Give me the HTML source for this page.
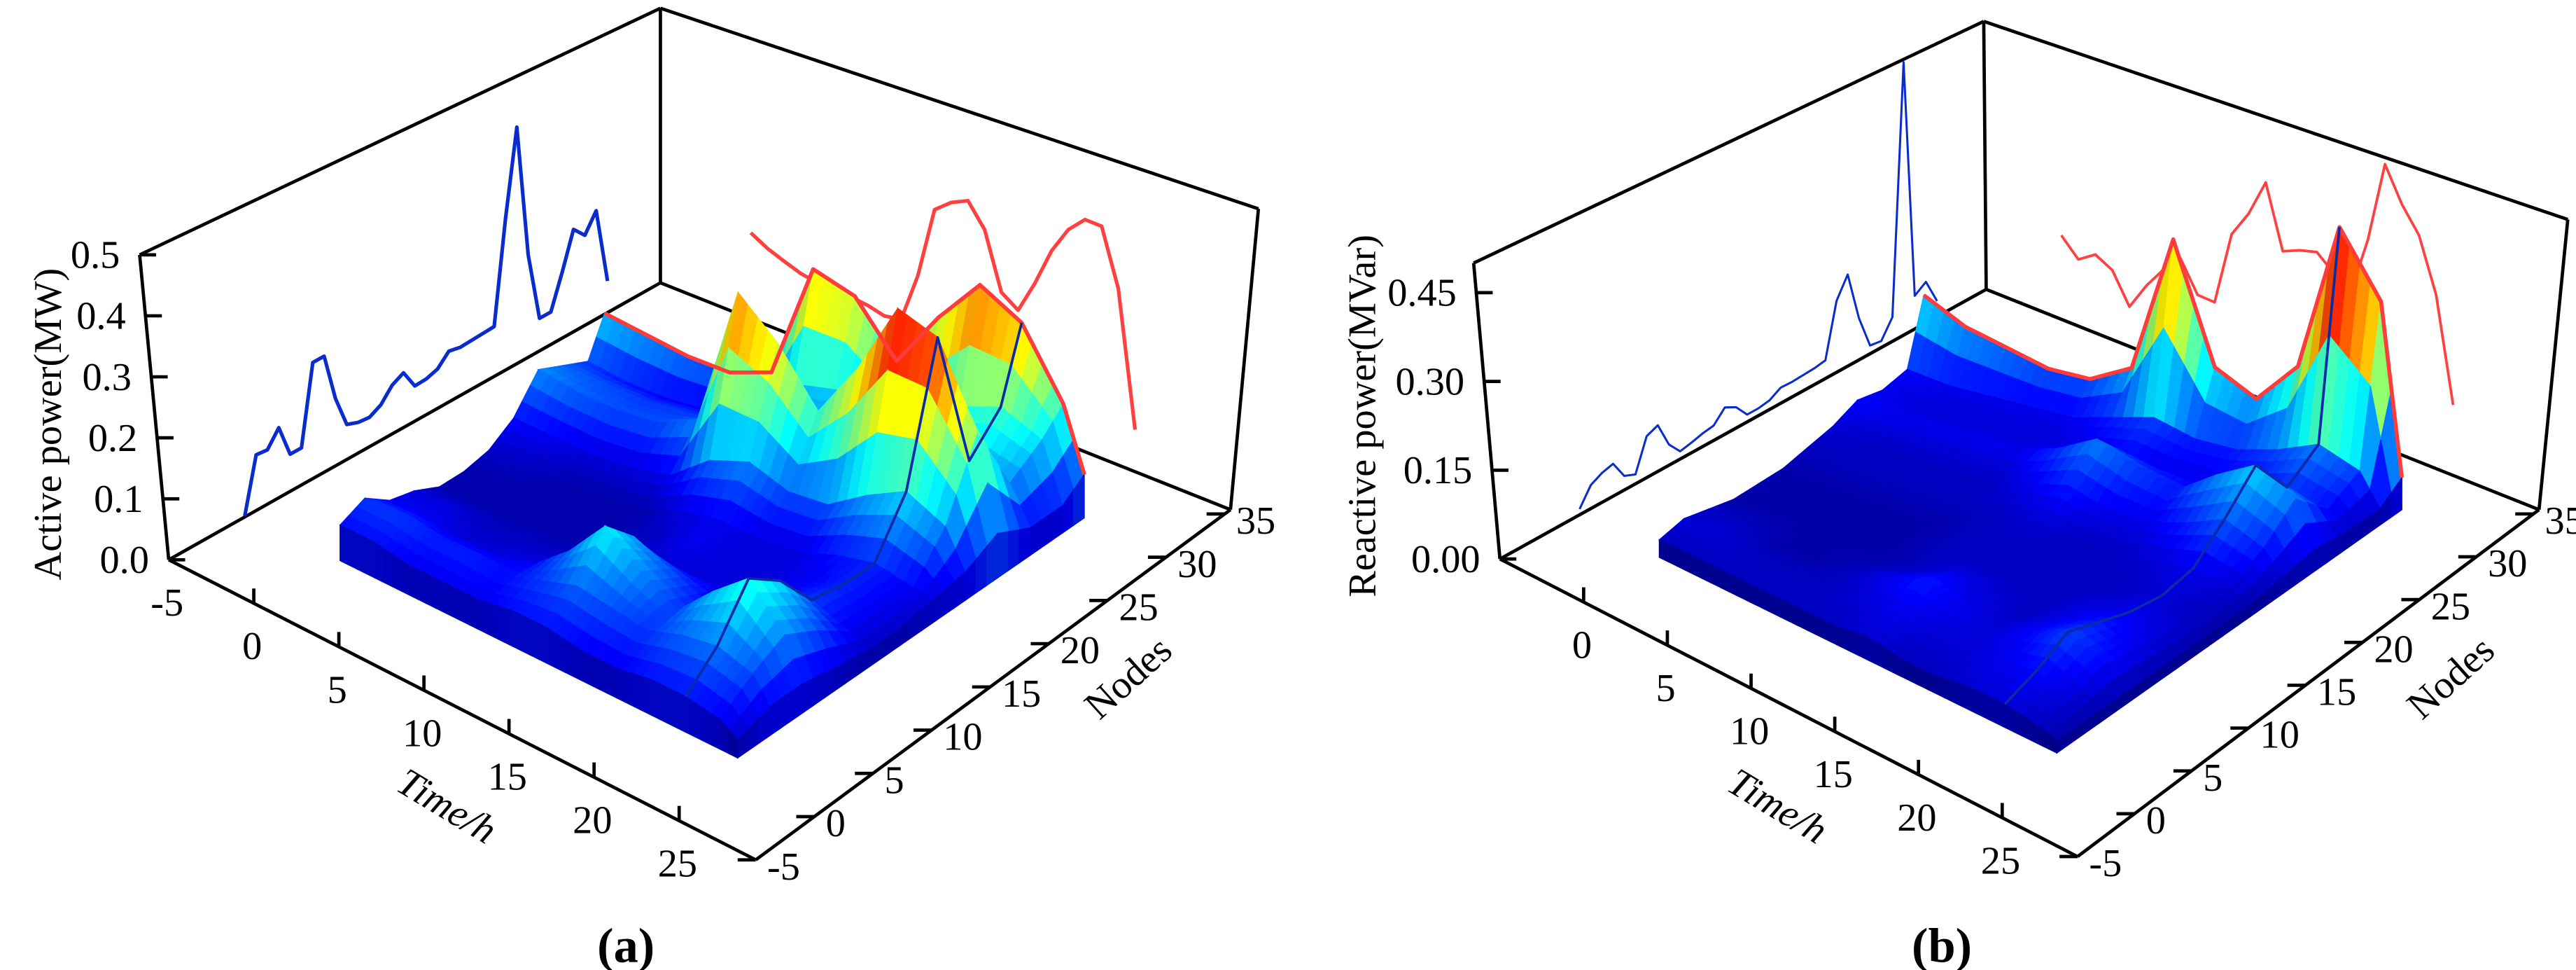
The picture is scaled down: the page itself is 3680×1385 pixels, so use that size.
<!DOCTYPE html>
<html><head><meta charset="utf-8"><title>3D power surfaces</title>
<style>
html,body{margin:0;padding:0;background:#fff;}
svg{display:block;}
text{font-family:"Liberation Serif","Times New Roman",serif;fill:#000;}
</style></head>
<body>
<svg id="chart" xmlns="http://www.w3.org/2000/svg" width="3680" height="1385" viewBox="0 0 1568 590" preserveAspectRatio="none" font-family="Liberation Serif, serif">
<rect x="0" y="0" width="1568" height="590" fill="#fff"/>
<g id="panelA"></g>
<g id="panelB"></g>
<text x="381" y="585" text-anchor="middle" font-size="30" font-weight="bold" style="font-family:'Liberation Serif',serif">(a)</text>
<text x="1182" y="585" text-anchor="middle" font-size="30" font-weight="bold" style="font-family:'Liberation Serif',serif">(b)</text>
</svg>
<script>
// ---------- data ----------
const timeGrid = [1,3,5,7,9,11,13,15,17,19,21,23,24];
const nodeGrid = [1,4,7,10,13,16,19,22,25,28,31,33];
// active power surface (MW): rows = nodeGrid, cols = timeGrid
const activeGrid = [
 [.06,.06,.05,.05,.05,.06,.06,.05,.05,.06,.06,.05,.03],
 [.08,.08,.07,.07,.06,.08,.10,.09,.08,.10,.11,.09,.05],
 [.05,.05,.04,.04,.05,.10,.17,.12,.08,.14,.19,.12,.05],
 [.04,.04,.03,.03,.03,.06,.12,.09,.06,.10,.15,.09,.04],
 [.02,.02,.02,.02,.02,.03,.04,.04,.04,.06,.08,.05,.03],
 [.02,.02,.02,.02,.02,.03,.05,.04,.04,.05,.07,.05,.03],
 [.03,.03,.02,.02,.02,.04,.05,.04,.04,.06,.07,.05,.04],
 [.06,.05,.04,.04,.05,.10,.12,.09,.09,.13,.16,.12,.05],
 [.12,.10,.09,.09,.12,.37,.30,.20,.30,.43,.40,.25,.08],
 [.10,.09,.08,.08,.08,.12,.12,.10,.10,.14,.14,.12,.05],
 [.08,.06,.05,.05,.06,.14,.15,.12,.13,.18,.20,.16,.05],
 [.15,.13,.11,.10,.12,.33,.30,.20,.30,.38,.33,.20,.08]
];
const reactiveGrid = [
 [.03,.03,.03,.03,.03,.03,.04,.03,.03,.04,.04,.03,.02],
 [.04,.04,.03,.03,.03,.04,.05,.04,.04,.05,.06,.04,.02],
 [.03,.03,.02,.02,.03,.05,.07,.05,.04,.06,.09,.06,.02],
 [.02,.02,.02,.02,.02,.03,.05,.04,.03,.05,.07,.05,.02],
 [.02,.02,.02,.02,.02,.03,.03,.03,.03,.04,.05,.04,.02],
 [.02,.02,.02,.02,.02,.03,.03,.03,.03,.03,.04,.03,.02],
 [.03,.03,.03,.03,.03,.03,.04,.03,.03,.04,.05,.04,.02],
 [.04,.03,.03,.03,.03,.05,.07,.05,.05,.07,.10,.07,.03],
 [.06,.05,.05,.05,.05,.08,.12,.09,.07,.12,.16,.12,.04],
 [.05,.04,.04,.04,.04,.05,.06,.05,.05,.06,.08,.06,.03],
 [.06,.05,.05,.05,.05,.07,.09,.07,.07,.09,.12,.09,.03],
 [.18,.14,.12,.10,.10,.14,.40,.18,.14,.22,.50,.38,.06]
];
// wall projections
const activeNodeProfile = [0.00,.09,.088,.114,.06,.06,.19,.19,.11,.057,.05,.048,.058,.08,.09,.058,.059,.065,.084,.08,.081,.082,.083,.25,.39,.17,.055,.055,.11,.17,.15,.18,.054];
const activeTimeProfile = [.157,.141,.13,.12,.115,.116,.114,.111,.104,.11,.20,.33,.355,.37,.33,.23,.21,.27,.34,.39,.42,.42,.32,.08];
const reactiveNodeProfile = [0,.03,.04,.045,.014,.006,.06,.068,.025,.003,.007,.012,.015,.035,.025,.002,.002,.005,.016,.015,.016,.017,.02,.11,.144,.06,.003,0,.03,.45,.045,.058,.015];
const reactiveTimeProfile = [.144,.113,.134,.118,.065,.115,.156,.188,.135,.134,.268,.317,.385,.274,.288,.297,.271,.25,.356,.503,.443,.40,.306,.121];
const zTicksA = [0,0.1,0.2,0.3,0.4,0.5];
const zTicksB = [0,0.15,0.30,0.45];
const timeTicksA = [-5,0,5,10,15,20,25];
const timeTicksB = [0,5,10,15,20,25];
const nodeTicks = [-5,0,5,10,15,20,25,30,35];

// ---------- rendering ----------
const NS = "http://www.w3.org/2000/svg";
const SERIF = "'Liberation Serif','Times New Roman',serif";
function mk(tag, attrs, parent){
  const e = document.createElementNS(NS, tag);
  for (const k in attrs) e.setAttribute(k, attrs[k]);
  if (tag === 'text') e.setAttribute('style', 'font-family:' + SERIF);
  parent.appendChild(e);
  return e;
}
function cl(v){return Math.max(0,Math.min(1,v));}
function jet(x, k){
  x = cl(x); k = k===undefined?1:k;
  const r = cl(1.5-Math.abs(4*x-3)), g = cl(1.5-Math.abs(4*x-2)), b = cl(1.5-Math.abs(4*x-1));
  return "rgb("+Math.round(r*255*k)+","+Math.round(g*255*k)+","+Math.round(b*255*k)+")";
}
function lerp(P,Q,f){return [P[0]+(Q[0]-P[0])*f, P[1]+(Q[1]-P[1])*f];}
function interpGrid(grid, t, n){
  let i=0; while(i<timeGrid.length-2 && t>timeGrid[i+1]) i++;
  let j=0; while(j<nodeGrid.length-2 && n>nodeGrid[j+1]) j++;
  const ft = cl((t-timeGrid[i])/(timeGrid[i+1]-timeGrid[i]));
  const fn = cl((n-nodeGrid[j])/(nodeGrid[j+1]-nodeGrid[j]));
  const a = grid[j][i]*(1-ft)+grid[j][i+1]*ft;
  const b = grid[j+1][i]*(1-ft)+grid[j+1][i+1]*ft;
  return a*(1-fn)+b*fn;
}
function pts(arr){return arr.map(p=>p[0].toFixed(2)+","+p[1].toFixed(2)).join(" ");}

function drawPanel(g, c){
  const box = [[c.A,c.B,'box-top-left-edge'],[c.B,c.C,'box-top-right-edge'],[c.B,c.E,'box-back-vertical'],
               [c.D,c.E,'floor-back-left-edge'],[c.E,c.G,'floor-back-right-edge'],[c.A,c.D,'z-axis-line'],[c.C,c.G,'box-right-vertical']];
  box.forEach(b=>{
    const l = mk('line',{x1:b[0][0],y1:b[0][1],x2:b[1][0],y2:b[1][1],stroke:'#000','stroke-width':2},g);
    
    
  });
  const bp = c.nodeProfile.map((v,k)=>{
    const x = c.bx0 + k*c.bdx;
    const fy = c.wD[1] + (x-c.wD[0])*(c.wE[1]-c.wD[1])/(c.wE[0]-c.wD[0]);
    return [x, fy - v*c.bScale];
  });
  const bl = mk('polyline',{points:pts(bp),fill:'none',stroke:'#0a2ccc','stroke-width':c.bw,'stroke-linejoin':'round'},g);
  
  
  const rp = c.timeProfile.map((v,k)=>{
    const x = c.rx0 + k*c.rdx;
    const fy = c.rE[1] + (x-c.rE[0])*0.4;
    return [x, fy - v*c.rScale];
  });
  const rl = mk('polyline',{points:pts(rp),fill:'none',stroke:'#ff4040','stroke-width':c.rw,'stroke-linejoin':'round'},g);
  
  

  const S = c.S;
  function proj(t,n,z){
    const u=(t-1)/23, v=(n-1)/32;
    const x = S[0][0]*(1-u)*(1-v)+S[1][0]*u*(1-v)+S[2][0]*u*v+S[3][0]*(1-u)*v;
    const y = S[0][1]*(1-u)*(1-v)+S[1][1]*u*(1-v)+S[2][1]*u*v+S[3][1]*(1-u)*v;
    const sc = c.zs0 - (c.zs0-c.zs1)*v;
    return [x, y - z*sc];
  }
  const sg = mk('g',{},g);
  
  
  const ts=[]; for(let t=1;t<=24.001;t+=0.5) ts.push(t);
  const ns=[]; for(let n=1;n<=33;n+=1) ns.push(n);
  const cells=[];
  for(let a=0;a<ts.length-1;a++) for(let b=0;b<ns.length-1;b++){
    const t0=ts[a],t1=ts[a+1],n0=ns[b],n1=ns[b+1];
    const z00=interpGrid(c.grid,t0,n0),z10=interpGrid(c.grid,t1,n0),z11=interpGrid(c.grid,t1,n1),z01=interpGrid(c.grid,t0,n1);
    const u=((t0+t1)/2-1)/23, v=((n0+n1)/2-1)/32;
    cells.push({key:v-u, p:[proj(t0,n0,z00),proj(t1,n0,z10),proj(t1,n1,z11),proj(t0,n1,z01)], z:(z00+z10+z11+z01)/4, dz:(z00+z01-z10-z11)});
  }
  cells.sort((a,b)=>b.key-a.key);
  cells.forEach(cc=>{
    const shade = 1 - 0.25*cl(cc.dz*-4);
    const col = jet(cc.z/c.zmax, shade);
    const p = mk('polygon',{points:pts(cc.p),fill:col,stroke:col,'stroke-width':0.6},sg);
    
    
  });
  for(let a=0;a<ts.length-1;a++){
    const t0=ts[a],t1=ts[a+1];
    const z0=interpGrid(c.grid,t0,1), z1=interpGrid(c.grid,t1,1);
    const col=jet((z0+z1)/2/c.zmax,0.75);
    const p=mk('polygon',{points:pts([proj(t0,1,z0),proj(t1,1,z1),proj(t1,1,0),proj(t0,1,0)]),fill:col,stroke:col,'stroke-width':0.6},sg);
    
    
  }
  for(let b=0;b<ns.length-1;b++){
    const n0=ns[b],n1=ns[b+1];
    const z0=interpGrid(c.grid,24,n0), z1=interpGrid(c.grid,24,n1);
    const col=jet((z0+z1)/2/c.zmax,0.85);
    const p=mk('polygon',{points:pts([proj(24,n0,z0),proj(24,n1,z1),proj(24,n1,0),proj(24,n0,0)]),fill:col,stroke:col,'stroke-width':0.6},sg);
    
    
  }
  const redPts = ts.map(t=>proj(t,33,interpGrid(c.grid,t,33)));
  const rs = mk('polyline',{points:pts(redPts),fill:'none',stroke:'#ff3b3b','stroke-width':2.4,'stroke-linejoin':'round'},g);
  
  
  const bluePts = ns.map(n=>proj(21,n,interpGrid(c.grid,21,n)));
  const bs = mk('polyline',{points:pts(bluePts),fill:'none',stroke:'#0b2aa8','stroke-width':1.6,'stroke-linejoin':'round'},g);
  
  

  const fa = [[c.D,c.F,'time-axis-line'],[c.F,c.G,'nodes-axis-line']];
  fa.forEach(b=>{
    const l = mk('line',{x1:b[0][0],y1:b[0][1],x2:b[1][0],y2:b[1][1],stroke:'#000','stroke-width':2},g);
    
    
  });
  c.zTicks.forEach(z=>{
    const p = lerp(c.D,c.A,z/0.5);
    const tk = mk('line',{x1:p[0],y1:p[1],x2:p[0]+10,y2:p[1],stroke:'#000','stroke-width':2},g);
    
    
    const tx = mk('text',{x:p[0]-12,y:p[1]+8,'font-size':24,'text-anchor':'end'},g);
    tx.textContent = z.toFixed(c.zDec);
    
    
  });
  c.timeTicks.forEach(t=>{
    const p = lerp(c.D,c.F,(t+5)/34.5);
    if(t>-5){
      const tk = mk('line',{x1:p[0],y1:p[1],x2:p[0],y2:p[1]-9,stroke:'#000','stroke-width':2},g);
      
      
    }
    const tx = mk('text',{x:p[0]-1,y:p[1]+34,'font-size':24,'text-anchor':'middle'},g);
    tx.textContent = String(t);
    
    
  });
  nodeTicks.forEach(n=>{
    const p = lerp(c.F,c.G,(n+5)/40.5);
    const tk = mk('line',{x1:p[0]-11,y1:p[1],x2:p[0],y2:p[1],stroke:'#000','stroke-width':2},g);
    
    
    const tx = mk('text',{x:p[0]+7,y:p[1]+12,'font-size':24,'text-anchor':'start'},g);
    tx.textContent = String(n);
    
    
  });
  const zt = mk('text',{x:0,y:0,'font-size':24,'text-anchor':'middle',transform:'translate('+c.zTitlePos[0]+','+c.zTitlePos[1]+') rotate(-90)'},g);
  zt.textContent = c.zTitle;
  
  
  const tt = mk('text',{x:0,y:0,'font-size':24,'font-style':'italic','text-anchor':'middle',transform:'translate('+c.tTitlePos[0]+','+c.tTitlePos[1]+') rotate(31)'},g);
  tt.textContent = 'Time/h';
  
  
  const nt = mk('text',{x:0,y:0,'font-size':24,'text-anchor':'middle',transform:'translate('+c.nTitlePos[0]+','+c.nTitlePos[1]+') rotate(-42)'},g);
  nt.textContent = 'Nodes';
  
  
}

drawPanel(document.getElementById('panelA'), {
  A:[85,155],B:[402,5],C:[766,127],D:[102.7,340.5],E:[402,172],F:[460,523],G:[749,310],
  S:[[207,341],[449,461],[660,315],[368,240]], zs0:360, zs1:330, zmax:0.45, grid:activeGrid,
  nodeProfile:activeNodeProfile, timeProfile:activeTimeProfile,
  bx0:149, bdx:6.9, wD:[102,340], wE:[402,173], bScale:370, bw:2.2,
  rx0:457, rdx:10.17, rE:[402,173], rScale:340, rw:2.2,
  zTicks:zTicksA, zDec:1, timeTicks:timeTicksA,
  zTitle:'Active power(MW)', zTitlePos:[37,258], tTitlePos:[268,497], nTitlePos:[692,418]
});
drawPanel(document.getElementById('panelB'), {
  A:[897,160],B:[1207.5,13],C:[1563,133.5],D:[913,340],E:[1209,176],F:[1264.6,521],G:[1545.5,310],
  S:[[1010,339],[1252,458],[1462,310],[1171,238]], zs0:355, zs1:325, zmax:0.47, grid:reactiveGrid,
  nodeProfile:reactiveNodeProfile, timeProfile:reactiveTimeProfile,
  bx0:961.5, bdx:6.8, wD:[907,340], wE:[1207,173], bScale:360, bw:1.3,
  rx0:1254.7, rdx:10.37, rE:[1207,173], rScale:340, rw:1.6,
  zTicks:zTicksB, zDec:2, timeTicks:timeTicksB,
  zTitle:'Reactive power(MVar)', zTitlePos:[837,253], tTitlePos:[1078,497], nTitlePos:[1497,418]
});
</script>
</body></html>
